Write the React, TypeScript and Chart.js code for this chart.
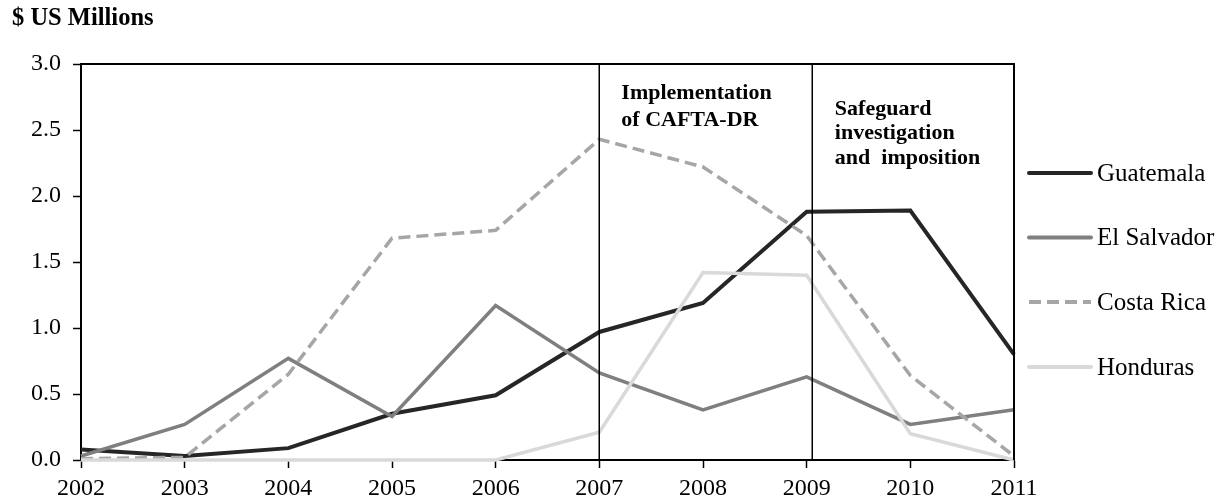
import React, { useEffect, useRef } from "react";
import { Chart, registerables } from "chart.js";

Chart.register(...registerables);

const years = [2002, 2003, 2004, 2005, 2006, 2007, 2008, 2009, 2010, 2011];
const guatemala = [0.08, 0.03, 0.09, 0.35, 0.49, 0.97, 1.19, 1.88, 1.89, 0.8];
const elSalvador = [0.03, 0.27, 0.77, 0.33, 1.17, 0.66, 0.38, 0.63, 0.27, 0.38];
const costaRica = [0.01, 0.02, 0.65, 1.68, 1.74, 2.43, 2.22, 1.7, 0.64, 0.03];
const honduras = [0, 0, 0, 0, 0, 0.21, 1.42, 1.4, 0.2, 0];

const seriesNames = ["Guatemala", "El Salvador", "Costa Rica", "Honduras"];
const seriesColors = ["#262626", "#7f7f7f", "#a6a6a6", "#d9d9d9"];
const seriesDash = [[], [], [12, 6], []];

const eventYears = [2007, 2009.05];
const eventLabels = [
  ["Implementation", "of CAFTA-DR"],
  ["Safeguard", "investigation", "and  imposition"],
];
const yTitle = "$ US Millions";

const SERIF = "'Liberation Serif', 'Times New Roman', serif";

export default function App() {
  const ref = useRef<HTMLCanvasElement | null>(null);

  useEffect(() => {
    const canvas = ref.current;
    if (!canvas) return;
    const seriesValues = [guatemala, elSalvador, costaRica, honduras];

    const overlay = {
      id: "overlay",
      afterDatasetsDraw(chart: any) {
        const { ctx, chartArea, scales } = chart;
        const x = scales.x;
        ctx.save();
        // frame top & right
        ctx.strokeStyle = "#000";
        ctx.lineWidth = 2;
        ctx.beginPath();
        ctx.moveTo(chartArea.left, chartArea.top);
        ctx.lineTo(chartArea.right, chartArea.top);
        ctx.lineTo(chartArea.right, chartArea.bottom);
        ctx.stroke();
        // event lines
        ctx.lineWidth = 1.5;
        eventYears.forEach((yr) => {
          const px = Math.round(x.getPixelForValue(yr)) + 0.25;
          ctx.beginPath();
          ctx.moveTo(px, chartArea.top);
          ctx.lineTo(px, chartArea.bottom);
          ctx.stroke();
        });
        // event labels
        ctx.fillStyle = "#000";
        ctx.font = `bold 22px ${SERIF}`;
        ctx.textAlign = "left";
        ctx.textBaseline = "middle";
        eventLabels[0].forEach((t, i) => {
          ctx.fillText(t, x.getPixelForValue(eventYears[0]) + 22, 93 + i * 27);
        });
        eventLabels[1].forEach((t, i) => {
          ctx.fillText(t, x.getPixelForValue(eventYears[1]) + 23, 109 + i * 24.5);
        });
        // y title
        ctx.font = `bold 24.5px ${SERIF}`;
        ctx.fillText(yTitle, 12, 19);
        // legend
        const legendY = [173, 237.5, 302, 367];
        ctx.font = `25px ${SERIF}`;
        seriesNames.forEach((name, i) => {
          ctx.strokeStyle = seriesColors[i];
          ctx.lineWidth = 4;
          ctx.setLineDash(seriesDash[i]);
          ctx.lineCap = seriesDash[i].length ? "butt" : "round";
          ctx.beginPath();
          ctx.moveTo(1029, legendY[i]);
          ctx.lineTo(1091, legendY[i]);
          ctx.stroke();
          ctx.setLineDash([]);
          ctx.fillStyle = "#000";
          ctx.fillText(name, 1097, legendY[i] + 1);
        });
        ctx.restore();
      },
    };

    const chart = new Chart(canvas, {
      type: "line",
      data: {
        datasets: seriesNames.map((name, i) => ({
          label: name,
          data: years.map((yr, j) => ({ x: yr, y: seriesValues[i][j] })),
          borderColor: seriesColors[i],
          backgroundColor: seriesColors[i],
          borderWidth: i === 0 ? 4 : 3.5,
          borderDash: seriesDash[i],
          pointRadius: 0,
          tension: 0,
          fill: false,
          clip: false,
          order: 4 - i,
        })),
      },
      options: {
        responsive: false,
        animation: false,
        devicePixelRatio: 1,
        layout: { padding: { top: 64, right: 209, bottom: 0, left: 0 } },
        plugins: {
          legend: { display: false },
          tooltip: { enabled: false },
          title: { display: false },
        },
        scales: {
          x: {
            type: "linear",
            min: 2002,
            max: 2011,
            afterFit: (s: any) => {
              s.height = 42;
            },
            ticks: {
              stepSize: 1,
              autoSkip: false,
              maxRotation: 0,
              padding: 6,
              color: "#000",
              font: { family: SERIF, size: 24 },
              callback: (v: any) => String(v),
            },
            grid: {
              display: true,
              drawOnChartArea: false,
              drawTicks: true,
              tickLength: 8,
              tickWidth: 1.5,
              tickColor: "#000",
              color: "#000",
            },
            border: { display: true, color: "#000", width: 2 },
          },
          y: {
            type: "linear",
            min: 0,
            max: 3,
            afterFit: (s: any) => {
              s.width = 81;
            },
            ticks: {
              stepSize: 0.5,
              padding: 12,
              color: "#000",
              font: { family: SERIF, size: 24 },
              callback: (v: any) => Number(v).toFixed(1),
            },
            grid: {
              display: true,
              drawOnChartArea: false,
              drawTicks: true,
              tickLength: 8,
              tickWidth: 1.5,
              tickColor: "#000",
              color: "#000",
            },
            border: { display: true, color: "#000", width: 2 },
          },
        },
      },
      plugins: [overlay],
    } as any);

    return () => chart.destroy();
  }, []);

  return (
    <div style={{ position: "absolute", left: 0, top: 0, width: 1223, height: 502, background: "#fff" }}>
      <canvas ref={ref} width={1223} height={502} style={{ width: 1223, height: 502, display: "block" }} />
    </div>
  );
}
